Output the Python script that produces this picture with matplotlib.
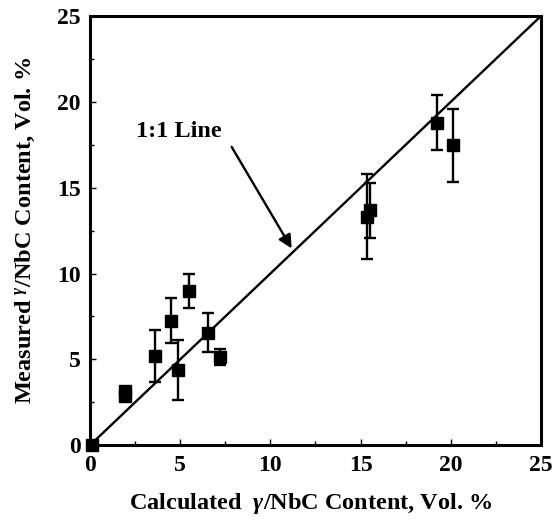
import numpy as np
import matplotlib.pyplot as plt
from matplotlib.ticker import MultipleLocator

plt.rcParams['font.family'] = ['Liberation Serif', 'DejaVu Serif']
plt.rcParams['font.weight'] = 'bold'
plt.rcParams['mathtext.fontset'] = 'custom'
plt.rcParams['mathtext.rm'] = 'Liberation Serif'
plt.rcParams['mathtext.it'] = 'Liberation Serif:italic'
plt.rcParams['mathtext.bf'] = 'Liberation Serif:bold:italic'

# calculated vs measured gamma/NbC content (vol. %)
calc = [0.1, 1.95, 1.95, 3.6, 4.5, 4.85, 5.5, 6.55, 7.2, 15.35, 15.55, 19.25, 20.15]
meas = [0.0, 2.85, 3.15, 5.2, 7.25, 4.35, 9.0, 6.55, 5.15, 13.3, 13.7, 18.8, 17.5]
err_lo = [0.0, 0.0, 0.0, 1.55, 1.3, 1.7, 1.0, 1.1, 0.5, 2.45, 1.65, 1.6, 2.15]
err_hi = [0.0, 0.0, 0.0, 1.5, 1.3, 1.75, 1.0, 1.15, 0.45, 2.5, 1.55, 1.6, 2.1]

fig = plt.figure(figsize=(5.53, 5.20), dpi=100)
ax = fig.add_axes([0.163, 0.144, 0.815, 0.825])

# 1:1 line
ax.plot([0, 25], [0, 25], color='black', lw=1.7, zorder=2)

ax.errorbar(calc, meas, yerr=[err_lo, err_hi], fmt='s', color='black',
            ms=9, elinewidth=1.7, capsize=4.5, capthick=1.7, zorder=3,
            clip_on=False)

ax.text(2.55, 18.3, '1:1 Line', fontsize=17.5, fontweight='bold',
        va='center', ha='left')
ax.annotate('', xy=(11.18, 11.46), xytext=(7.85, 17.38),
            arrowprops=dict(arrowstyle='-|>', color='black', lw=1.7,
                            mutation_scale=20, shrinkA=0, shrinkB=0))

ax.set_xlim(0, 25)
ax.set_ylim(0, 25)
ax.xaxis.set_major_locator(MultipleLocator(5))
ax.yaxis.set_major_locator(MultipleLocator(5))
ax.xaxis.set_minor_locator(MultipleLocator(2.5))
ax.yaxis.set_minor_locator(MultipleLocator(2.5))
ax.tick_params(which='both', direction='in', labelsize=17, width=1)
ax.tick_params(which='major', length=4, pad=7)
ax.tick_params(which='minor', length=3)
for s in ax.spines.values():
    s.set_linewidth(2.2)

ax.set_xlabel('Calculated  $\\mathbf{\\gamma}$/NbC Content, Vol. %', fontsize=17.5,
              fontweight='bold')
ax.set_ylabel('Measured $^{\\gamma}$/NbC Content, Vol. %', fontsize=17.5,
              fontweight='bold')
ax.xaxis.set_label_coords(0.489, -0.108)
ax.yaxis.set_label_coords(-0.118, 0.5)

fig.savefig('out.png', dpi=100)
